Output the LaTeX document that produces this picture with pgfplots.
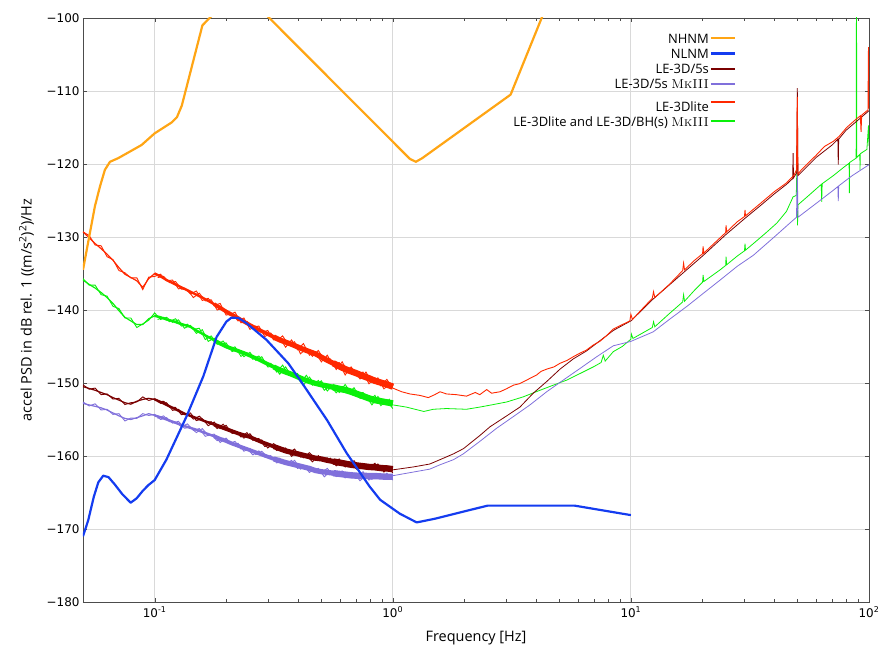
\documentclass[border=0pt]{standalone}
\usepackage{fontspec}
\setsansfont{Open Sans}
\renewcommand{\familydefault}{\sfdefault}
\newfontfamily\tickfont{DejaVu Sans}
\usepackage{pgfplots}
\pgfplotsset{compat=1.18}
\usepackage{pgfplotstable}

\definecolor{nhnm}{RGB}{255,165,20}
\definecolor{nlnm}{RGB}{20,60,240}
\definecolor{dred}{RGB}{122,0,0}
\definecolor{mpurp}{RGB}{128,112,219}
\definecolor{lred}{RGB}{255,40,0}
\definecolor{lgreen}{RGB}{10,240,10}
\newcommand{\mk}{\textrm{\textsc{MkIII}}}
\newcommand{\lgs}{\rule[-0.3em]{0pt}{1.2em}}
\newcommand{\lgb}{\rule[-0.3em]{0pt}{1.75em}}

% noisy low-frequency records: zig-zag values and their running level
\pgfplotstableread{
f red green dred purp rt gt dt pt
0.05 -129.3 -135.7 -150.25 -152.6 -129.3 -135.9 -150.5 -152.8
0.05309 -129.8 -136.6 -150.85 -153.15 -130.1 -136.5 -150.75 -153.0
0.05623 -131.1 -136.6 -150.7 -152.85 -130.9 -137.0 -151.0 -153.2
0.05957 -131.2 -137.9 -151.6 -153.7 -131.6 -137.6 -151.3 -153.4
0.06310 -132.7 -138.1 -151.5 -153.6 -132.35 -138.3 -151.6 -153.7
0.06683 -133.1 -139.5 -152.2 -154.3 -133.2 -139.1 -152.0 -154.1
0.07079 -134.6 -139.8 -152.1 -154.2 -134.2 -140.1 -152.35 -154.5
0.07499 -134.9 -141.1 -152.95 -155.2 -135.1 -141.0 -152.7 -154.85
0.07943 -135.6 -141.1 -152.7 -154.8 -135.55 -141.5 -152.9 -155.0
0.08414 -135.6 -142.4 -152.6 -154.85 -136.0 -142.0 -152.5 -154.75
0.08913 -137.2 -141.9 -151.9 -154.2 -136.9 -142.0 -152.25 -154.5
0.09441 -135.5 -141.4 -152.4 -154.45 -135.7 -141.2 -152.1 -154.2
0.1 -135.4 -140.4 -152.15 -154.3 -135.0 -140.8 -152.25 -154.45
0.1059 -135.1 -141.3 -152.8 -155.0 -135.4 -141.0 -152.6 -154.7
0.1122 -136.0 -141.0 -152.7 -154.75 -135.9 -141.3 -153.0 -155.0
0.1189 -135.9 -141.7 -153.75 -155.5 -136.3 -141.5 -153.4 -155.3
0.1259 -137.1 -141.35 -153.6 -155.25 -136.7 -141.8 -153.8 -155.6
0.1334 -137.0 -142.5 -154.35 -156.2 -137.1 -142.05 -154.2 -155.9
0.1413 -137.8 -142.1 -154.1 -156.05 -137.5 -142.3 -154.5 -156.15
0.1496 -137.4 -143.2 -155.15 -156.8 -137.9 -142.8 -154.8 -156.4
0.1585 -138.7 -142.7 -154.9 -156.25 -138.3 -143.25 -155.1 -156.7
0.1679 -138.4 -144.3 -155.85 -157.2 -138.75 -143.7 -155.4 -157.0
0.1778 -139.4 -143.85 -155.35 -157.0 -139.2 -144.15 -155.7 -157.3
0.1884 -139.1 -144.8 -156.25 -158.15 -139.7 -144.6 -156.0 -157.65
0.1995 -140.7 -144.5 -155.8 -157.55 -140.2 -145.0 -156.3 -157.95
0.2113 -140.5 -145.7 -156.9 -158.45 -140.65 -145.3 -156.6 -158.3
0.2239 -141.5 -145.4 -156.8 -158.25 -141.1 -145.6 -156.9 -158.6
0.2371 -141.1 -146.4 -157.55 -159.35 -141.6 -145.9 -157.15 -158.9
0.2512 -142.65 -145.8 -156.95 -158.95 -142.05 -146.25 -157.4 -159.2
0.2661 -142.2 -146.9 -157.95 -159.8 -142.5 -146.6 -157.75 -159.5
0.2818 -143.1 -146.4 -157.8 -159.35 -142.9 -147.0 -158.1 -159.8
0.2985 -142.8 -147.8 -158.9 -160.2 -143.3 -147.4 -158.4 -160.1
0.3162 -144.1 -147.7 -158.3 -160.4 -143.7 -147.8 -158.7 -160.4
0.3350 -143.8 -148.8 -159.2 -160.3 -144.1 -148.2 -159.0 -160.65
0.3548 -145.1 -147.8 -158.9 -161.15 -144.4 -148.5 -159.3 -160.9
0.3758 -144.1 -149.1 -160.05 -160.6 -144.7 -148.8 -159.5 -161.1
0.3981 -145.45 -148.7 -159.4 -161.7 -145.05 -149.15 -159.7 -161.3
0.4217 -144.6 -150.3 -160.25 -161.3 -145.4 -149.5 -159.9 -161.5
0.4467 -146.2 -149.2 -159.55 -162.25 -145.7 -149.8 -160.1 -161.7
0.4732 -145.8 -150.3 -160.4 -161.7 -146.0 -150.05 -160.3 -162.0
0.5012 -147.1 -149.7 -160.4 -162.3 -146.45 -150.25 -160.4 -162.15
0.5309 -146.2 -151.1 -160.25 -161.7 -146.9 -150.4 -160.6 -162.25
0.5623 -147.6 -150.2 -161.0 -162.7 -147.3 -150.6 -160.75 -162.35
0.5957 -147.2 -151.3 -160.4 -162.2 -147.7 -150.8 -160.9 -162.45
0.6310 -148.9 -150.2 -161.5 -163.0 -148.1 -150.95 -161.05 -162.55
0.6683 -147.8 -151.4 -161.0 -162.25 -148.4 -151.2 -161.2 -162.65
0.7079 -148.9 -151.5 -161.85 -162.9 -148.7 -151.5 -161.3 -162.7
0.7499 -148.5 -151.3 -161.1 -162.15 -149.05 -151.8 -161.4 -162.7
0.7943 -150.1 -152.4 -161.6 -163.3 -149.35 -152.1 -161.5 -162.75
0.8414 -149.3 -151.7 -161.0 -162.65 -149.7 -152.35 -161.55 -162.75
0.8913 -150.4 -153.1 -162.0 -163.1 -149.95 -152.5 -161.65 -162.8
0.9441 -149.5 -152.4 -161.45 -162.35 -150.2 -152.65 -161.7 -162.85
1.0 -150.7 -153.5 -162.3 -163.3 -150.5 -152.8 -161.8 -162.85
}\noisy

% the same records read between the rows above
\pgfplotstableread{
f red green dred purp
0.10292 -135.55 -141.3 -152.6 -154.85
0.10902 -135.4 -141.0 -152.5 -154.5
0.11548 -136.25 -141.6 -153.3 -155.3
0.12233 -136.1 -141.2 -153.35 -155.35
0.12957 -137.15 -142.2 -154.35 -156.0
0.13725 -137.2 -141.95 -154.15 -155.6
0.14538 -138.3 -142.65 -154.95 -156.5
0.15400 -137.7 -142.5 -154.55 -156.25
0.16313 -138.75 -144.05 -155.35 -157.3
0.17278 -138.6 -143.55 -155.3 -157.05
0.18303 -140.0 -144.7 -156.25 -157.9
0.19387 -139.75 -144.25 -155.65 -157.55
0.20535 -140.7 -145.35 -156.65 -158.3
0.21752 -140.3 -145.05 -156.6 -158.0
0.23041 -141.75 -146.35 -157.4 -159.05
0.24406 -141.55 -145.85 -156.8 -158.95
0.25852 -142.4 -146.75 -157.85 -159.85
0.27384 -142.2 -146.3 -157.6 -159.3
0.29007 -143.65 -147.3 -158.7 -160.15
0.30726 -143.15 -147.3 -158.45 -159.95
0.32546 -144.2 -148.5 -159.25 -160.95
0.34475 -143.55 -147.55 -158.85 -160.6
0.36517 -144.8 -148.95 -159.6 -161.3
0.38681 -144.35 -148.75 -159.05 -160.6
0.40973 -146.0 -149.85 -160.15 -161.8
0.43401 -145.25 -148.95 -159.9 -161.35
0.45973 -146.35 -150.3 -160.8 -161.95
0.48697 -145.55 -149.65 -159.95 -161.7
0.51582 -146.85 -151.0 -160.75 -162.85
0.54639 -146.7 -150.35 -160.3 -162.05
0.57876 -148.15 -151.35 -161.35 -162.8
0.61306 -147.1 -150.5 -160.8 -162.05
0.64938 -148.6 -151.35 -161.45 -162.9
0.68786 -148.3 -150.65 -160.65 -162.35
0.72862 -149.45 -152.1 -161.75 -163.4
0.77179 -148.5 -151.8 -161.2 -162.6
0.81752 -149.9 -153.0 -161.65 -163.2
0.86596 -149.3 -151.85 -161.1 -162.4
0.91728 -150.8 -152.9 -162.2 -163.05
0.97163 -150.2 -152.2 -161.4 -162.65
}\noisyB

% one noisy record: a band along its running level, widening with frequency, and the zig-zags on top
\newcommand{\noiseband}[3]{%
  \addplot[#1, line width=1.2pt, forget plot] table[x=f, y=#3] {\noisy};
  \addplot[#1, line width=2.4pt, forget plot, skip coords between index={0}{12}] table[x=f, y=#3] {\noisy};
  \addplot[#1, line width=3.8pt, forget plot, skip coords between index={0}{22}] table[x=f, y=#3] {\noisy};
  \addplot[#1, line width=5.2pt, forget plot, skip coords between index={0}{32}] table[x=f, y=#3] {\noisy};
  \addplot[#1, line width=6.4pt, forget plot, skip coords between index={0}{42}] table[x=f, y=#3] {\noisy};
  \addplot[#1, line width=0.9pt, forget plot] table[x=f, y=#2] {\noisy};
  \addplot[#1, line width=0.9pt, forget plot] table[x=f, y=#2] {\noisyB};
}

\begin{document}
\begin{tikzpicture}
\begin{axis}[name=ax, scale only axis, width=786bp, height=584bp,
  xmode=log, xmin=0.05, xmax=100, ymin=-180, ymax=-100,
  xtick={0.1,1,10,100},
  xticklabels={10\textsuperscript{-1},10\textsuperscript{0},10\textsuperscript{1},10\textsuperscript{2}},
  ytick={-180,-170,...,-100},
  yticklabels={−180,−170,−160,−150,−140,−130,−120,−110,−100},
  grid=major, major grid style={draw=black!15, line width=0.9pt},
  axis line style={black!70}, tick style={black!70},
  xlabel={Frequency [Hz]},
  ylabel={accel PSD in dB rel. 1 ((m/s\textsuperscript{2})\textsuperscript{2})/Hz},
  ticklabel style={font=\tickfont\fontsize{12}{14}\selectfont},
  xticklabel style={yshift=-1.5pt},
  label style={font=\fontsize{14.5}{17}\selectfont},
  xlabel style={yshift=-7pt},
  ylabel shift=6pt,
  legend style={draw=none, fill=none, at={(0.835,0.982)}, anchor=north east,
    font=\fontsize{13}{15}\selectfont, row sep=0pt, nodes={inner sep=1pt}},
  legend cell align=right, legend plot pos=right,
  legend image code/.code={\draw[#1] (0cm,0cm) -- (0.85cm,0cm);},
]
% ---- low-frequency noisy segments
\noiseband{mpurp}{purp}{pt}
\noiseband{dred}{dred}{dt}
\noiseband{lgreen}{green}{gt}
\noiseband{lred}{red}{rt}

% ---- 1-100 Hz
\addplot[lgreen, line width=0.8pt, forget plot] coordinates {
(1.0,-153.0) (1.14,-153.3) (1.35,-153.9) (1.48,-153.6) (1.68,-153.5) (2.04,-153.6)
(2.32,-153.3) (2.6,-153.0) (3.01,-152.6) (3.53,-151.9) (4.15,-151.0) (4.72,-150.3)
(5.38,-149.6) (6.12,-148.7) (6.95,-147.8) (7.5,-147.2) (7.66,-146.2) (7.8,-147.0)
(8.44,-145.7) (9.2,-145.0) (10,-144.0) (10.05,-143.3) (10.2,-143.9) (12.3,-142.4)
(12.45,-141.6) (12.6,-142.3) (14.5,-140.5) (16.5,-138.9) (16.65,-137.9) (16.8,-138.8)
(18.5,-137.3) (20,-136.2) (20.1,-135.2) (20.25,-136.1) (23.7,-134.5) (25.0,-133.9)
(25.1,-132.7) (25.25,-133.8) (28,-132.6) (30,-131.9) (30.15,-130.9) (30.3,-131.8)
(32.7,-130.9) (37,-129.4) (41,-128.1) (45,-126.5) (48,-124.5) (49.5,-124.3)
(50.0,-117.6) (50.1,-128.4) (50.3,-125.6) (55,-124.5) (63.0,-122.8) (63.3,-125.2)
(63.6,-122.7) (70.8,-121.6) (78,-120.5) (82.5,-119.9) (82.7,-124.0) (82.9,-119.8)
(88.3,-119.2) (88.6,-95) (88.9,-119.1) (91.5,-118.7) (91.7,-120.8) (91.9,-118.6)
(98,-118.0) (99.5,-114.7) (100,-117.5)};
\addplot[mpurp, line width=0.8pt, forget plot] coordinates {
(1.0,-162.7) (1.22,-162.2) (1.43,-161.8) (1.58,-161.2) (1.80,-160.5) (1.98,-159.7)
(2.32,-158.0) (2.73,-156.2) (3.21,-154.6) (3.77,-153.0) (4.43,-151.2) (5.2,-149.6)
(6.12,-148.0) (7.19,-146.4) (8.44,-144.9) (10,-144.3) (12.4,-143.0) (14.5,-141.3)
(17.2,-139.5) (20,-137.8) (23.7,-135.9) (28,-134.0) (32.7,-132.5) (40,-130.0)
(48,-127.7) (49.6,-127.3) (50.0,-120.6) (50.3,-127.3) (60,-125.4) (70.8,-123.6)
(74.0,-123.1) (74.3,-125.1) (74.6,-123.0) (85,-121.6) (100,-120.1)};
\addplot[dred, line width=0.8pt, forget plot] coordinates {
(1.0,-161.9) (1.22,-161.5) (1.43,-161.1) (1.58,-160.5) (1.80,-159.7) (1.98,-159.0)
(2.32,-157.2) (2.56,-156.0) (3.01,-154.5) (3.42,-153.3) (3.89,-151.4) (4.43,-149.8)
(5.04,-148.1) (5.73,-146.7) (6.52,-145.6) (7.42,-144.2) (8.44,-142.8) (9.6,-141.8)
(10,-141.5) (12.4,-138.5) (16.6,-134.9) (20,-132.6) (25,-129.7) (30,-127.5)
(35,-125.7) (40,-124.1) (45,-122.8) (47.8,-122.0) (48.0,-118.5) (48.2,-121.9)
(49.7,-121.2) (50.0,-109.6) (50.3,-121.6) (60,-119.1) (70,-117.4) (74.0,-116.6)
(74.3,-120.1) (74.6,-116.6) (80,-115.4) (100,-112.7)};
\addplot[lred, line width=0.9pt, forget plot] coordinates {
(1.0,-150.7) (1.09,-151.2) (1.18,-151.5) (1.3,-151.7) (1.41,-152.0) (1.5,-151.6)
(1.58,-151.2) (1.68,-151.5) (1.85,-151.6) (2.04,-151.8) (2.22,-151.3) (2.32,-151.6)
(2.48,-150.9) (2.6,-151.4) (2.82,-151.2) (3.0,-150.8) (3.21,-150.3) (3.4,-150.1)
(3.65,-149.6) (4.02,-148.9) (4.2,-148.4) (4.43,-148.1) (4.75,-147.8) (5.04,-147.3)
(5.4,-146.9) (5.73,-146.4) (6.12,-145.9) (6.5,-145.5) (6.95,-144.8) (7.4,-144.3)
(7.92,-143.5) (8.44,-142.6) (9.2,-142.0) (9.9,-141.5) (10.0,-140.6) (10.15,-141.3)
(11.2,-139.8) (12.3,-138.4) (12.45,-137.5) (12.6,-138.3) (14.5,-136.5) (16.5,-134.6)
(16.65,-133.6) (16.8,-134.5) (18.5,-133.2) (20.0,-132.3) (20.1,-131.3) (20.25,-132.2)
(22.5,-130.8) (25.0,-129.4) (25.1,-128.4) (25.25,-129.3) (28,-127.9) (30.0,-127.2)
(30.15,-126.3) (30.3,-127.1) (35,-125.4) (40,-123.8) (45,-122.6) (48.5,-121.5)
(49.6,-120.8) (50.0,-110.8) (50.3,-121.4) (52,-120.8) (60,-118.8) (65,-117.6)
(70.8,-116.9) (75,-116.2) (80.6,-115.0) (88,-113.9) (92,-113.4) (92.6,-115.6)
(93.2,-113.3) (99,-112.6) (99.5,-104) (100,-112.4)};

% ---- NHNM / NLNM
\addplot[nhnm, line width=2.2pt, forget plot, line join=round] coordinates {
(0.05,-134.5) (0.0561,-125.8) (0.0589,-123.1) (0.0618,-120.8) (0.0649,-119.7)
(0.0703,-119.2) (0.0881,-117.4) (0.1,-115.8) (0.118,-114.3) (0.124,-113.6)
(0.13,-112.0) (0.1587,-101.0) (0.2174,-96.5) (0.2632,-98.0) (1.18,-119.3)
(1.25,-119.7) (1.33,-119.2) (3.125,-110.5) (4.545,-97.4)};
\addplot[nlnm, line width=2.2pt, forget plot, line join=round] coordinates {
(0.05,-171.0) (0.0526,-168.8) (0.0555,-165.6) (0.058,-163.6) (0.0608,-162.7)
(0.064,-162.9) (0.068,-163.9) (0.073,-165.2) (0.0793,-166.4) (0.084,-165.8)
(0.089,-164.8) (0.094,-164.0) (0.1,-163.3) (0.112,-160.5) (0.136,-154.6)
(0.16,-149.1) (0.182,-143.7) (0.2,-141.6) (0.21,-141.05) (0.225,-141.1)
(0.243,-141.8) (0.295,-144.1) (0.364,-147.3) (0.408,-149.6) (0.53,-155.1)
(0.64,-159.6) (0.8,-164.2) (0.885,-166.0) (1.07,-167.9) (1.26,-169.1)
(1.5,-168.6) (2.5,-166.8) (5.8,-166.8) (10,-168.1)};

\addlegendimage{nhnm, line width=2.2pt}
\addlegendentry{\lgs NHNM}
\addlegendimage{nlnm, line width=2.2pt}
\addlegendentry{\lgs NLNM}
\addlegendimage{dred, line width=2pt}
\addlegendentry{\lgs LE-3D/5s}
\addlegendimage{mpurp, line width=2pt}
\addlegendentry{\lgs LE-3D/5s \mk}
\addlegendimage{lred, line width=2pt}
\addlegendentry{\lgb LE-3Dlite}
\addlegendimage{lgreen, line width=2pt}
\addlegendentry{\lgs LE-3Dlite and LE-3D/BH(s) \mk}
\end{axis}
\pgfresetboundingbox
\path ([shift={(-83bp,-44bp)}]ax.south west) rectangle ([shift={(24bp,18bp)}]ax.north east);
\end{tikzpicture}
\end{document}
